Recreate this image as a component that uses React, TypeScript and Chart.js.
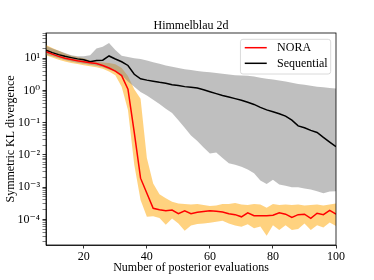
import React, { useEffect, useRef } from 'react';
import { Chart, registerables } from 'chart.js';

Chart.register(...registerables);

const chartTitle = 'Himmelblau 2d';
const xTitle = 'Number of posterior evaluations';
const yTitle = 'Symmetric KL divergence';

const evaluations = [8, 10, 12, 14, 16, 18, 20, 22, 24, 26, 28, 30, 32, 34, 36, 38, 40, 42, 44, 46, 48, 50, 52, 54, 56, 58, 60, 62, 64, 66, 68, 70, 72, 74, 76, 78, 80, 82, 84, 86, 88, 90, 92, 94, 96, 98, 100];

const noraMean = [16, 13.5, 11.5, 10, 9.2, 8.4, 7.8, 7.3, 6.9, 6.0, 5.0, 4.0, 2.9, 1.1, 0.05, 0.0019, 0.00065, 0.00022, 0.0002, 0.000185, 0.000194, 0.00015, 0.000185, 0.00015, 0.000165, 0.000175, 0.000185, 0.00018, 0.00017, 0.00015, 0.00014, 0.00012, 0.00016, 0.00013, 0.00013, 0.00013, 0.000135, 0.00016, 0.000145, 0.000115, 0.00014, 0.000145, 0.000107, 0.000155, 0.00014, 0.00019, 0.000145];
const noraUpper = [26, 21, 17, 14, 12, 11, 10, 8.5, 7.8, 7.4, 7.1, 6.5, 5.0, 2.8, 1.1, 0.55, 0.008, 0.0013, 0.0006, 0.00045, 0.00035, 0.00031, 0.0003, 0.00029, 0.0003, 0.00028, 0.00026, 0.00027, 0.0003, 0.0003, 0.00032, 0.00029, 0.00028, 0.0003, 0.00029, 0.00023, 0.0003, 0.00028, 0.00029, 0.00028, 0.00029, 0.00027, 0.00028, 0.00029, 0.00027, 0.00029, 0.00031];
const noraLower = [12.5, 10.5, 9.0, 8.0, 7.2, 6.6, 6.1, 5.7, 5.3, 4.7, 3.9, 3.0, 1.3, 0.25, 0.005, 0.0004, 0.00012, 0.000125, 0.00011, 0.000068, 0.000107, 0.000075, 0.000044, 0.000065, 0.000072, 0.000075, 0.000078, 0.000085, 0.00009, 0.000075, 0.000065, 0.000059, 0.00007, 0.000053, 0.00006, 0.000031, 0.000066, 0.000047, 0.000066, 0.000047, 0.00005, 0.000075, 0.000047, 0.000066, 0.000056, 0.00008, 0.000062];

const seqMean = [17.8, 15, 13, 11.5, 10.5, 9.6, 9.0, 7.8, 8.6, 8.7, 11.8, 9.5, 7.8, 6.0, 3.2, 2.3, 2.1, 1.95, 1.8, 1.68, 1.52, 1.42, 1.32, 1.26, 1.2, 1.05, 0.92, 0.8, 0.7, 0.63, 0.56, 0.5, 0.43, 0.37, 0.3, 0.25, 0.22, 0.19, 0.16, 0.12, 0.08, 0.07, 0.058, 0.05, 0.035, 0.025, 0.018];
const seqUpper = [24, 20, 17, 14.5, 12.5, 11.5, 11.5, 12.5, 20, 23, 30, 18, 12, 11, 10, 9.5, 8.5, 7.5, 6.8, 6.0, 5.5, 5.0, 4.6, 4.3, 4.0, 3.85, 3.7, 3.5, 3.3, 3.15, 3.0, 2.95, 2.85, 2.7, 2.5, 2.3, 2.2, 2.05, 1.9, 1.75, 1.6, 1.5, 1.4, 1.32, 1.26, 1.2, 1.15];
const seqLower = [13, 11.5, 10, 8.8, 8, 7.3, 6.8, 6.3, 5.9, 5.3, 4.5, 3.8, 3.0, 1.9, 1.3, 0.9, 0.7, 0.52, 0.38, 0.27, 0.2, 0.12, 0.07, 0.04, 0.027, 0.017, 0.011, 0.012, 0.008, 0.0055, 0.005, 0.0043, 0.0035, 0.0027, 0.0016, 0.00125, 0.0017, 0.0012, 0.0011, 0.001, 0.001, 0.0009, 0.00085, 0.00075, 0.00065, 0.00073, 0.00075];

const xTicks = [20, 40, 60, 80, 100];
const yMajorTicks = [1e-4, 1e-3, 1e-2, 1e-1, 1, 10];
const yTickLabels = ['10⁻⁴', '10⁻³', '10⁻²', '10⁻¹', '10⁰', '10¹'];

const FONT = "'Liberation Serif', 'DejaVu Serif', serif";

export default function App() {
  const ref = useRef<HTMLCanvasElement | null>(null);

  useEffect(() => {
    document.body.style.margin = '0';
    const canvas = ref.current;
    if (!canvas) return;
    const pts = (arr: number[]) => evaluations.map((x, i) => ({ x, y: arr[i] }));

    const Y_MIN = 1.6e-5;
    const Y_MAX = 61;

    const framePlugin = {
      id: 'framePlugin',
      afterDraw(chart: any) {
        const { ctx, chartArea: a } = chart;
        ctx.save();
        ctx.strokeStyle = '#000';
        ctx.lineWidth = 0.8;
        ctx.strokeRect(a.left, a.top, a.right - a.left, a.bottom - a.top);

        // title
        ctx.fillStyle = '#000';
        ctx.font = `12px ${FONT}`;
        ctx.textAlign = 'center';
        ctx.textBaseline = 'alphabetic';
        ctx.fillText(chartTitle, (a.left + a.right) / 2, 29.3);

        // legend
        const items = chart.data.datasets.slice(0, 2);
        const textW = Math.max(...items.map((d: any) => ctx.measureText(d.label).width));
        const right = a.right - 5.3;
        const boxW = 4.3 + 22 + 10.3 + textW + 3;
        const left = right - boxW;
        const top = a.top + 6.3;
        const h = 34.7;
        ctx.beginPath();
        const r = 2.5;
        ctx.moveTo(left + r, top);
        ctx.lineTo(right - r, top);
        ctx.quadraticCurveTo(right, top, right, top + r);
        ctx.lineTo(right, top + h - r);
        ctx.quadraticCurveTo(right, top + h, right - r, top + h);
        ctx.lineTo(left + r, top + h);
        ctx.quadraticCurveTo(left, top + h, left, top + h - r);
        ctx.lineTo(left, top + r);
        ctx.quadraticCurveTo(left, top, left + r, top);
        ctx.closePath();
        ctx.fillStyle = 'rgba(255,255,255,0.8)';
        ctx.fill();
        ctx.strokeStyle = '#d0d0d0';
        ctx.lineWidth = 0.8;
        ctx.stroke();
        items.forEach((d: any, i: number) => {
          const y = top + 8.4 + i * 15.6;
          ctx.beginPath();
          ctx.strokeStyle = d.borderColor;
          ctx.lineWidth = 1.5;
          ctx.moveTo(left + 4.3, y);
          ctx.lineTo(left + 26.3, y);
          ctx.stroke();
          ctx.fillStyle = '#000';
          ctx.textAlign = 'left';
          ctx.textBaseline = 'middle';
          ctx.fillText(d.label, left + 36.6, y + 0.5);
        });
        ctx.restore();
      },
    };

    const font = { family: FONT, size: 12 };

    const chart = new Chart(canvas, {
      type: 'line',
      data: {
        datasets: [
          { label: 'NORA', data: pts(noraMean), borderColor: '#ff0000', borderWidth: 1.5, pointRadius: 0, fill: false, order: 0 },
          { label: 'Sequential', data: pts(seqMean), borderColor: '#000000', borderWidth: 1.5, pointRadius: 0, fill: false, order: 1 },
          { label: 'Sequential upper', data: pts(seqUpper), borderWidth: 0, borderColor: 'rgba(0,0,0,0)', pointRadius: 0, fill: false, order: 2 },
          { label: 'Sequential lower', data: pts(seqLower), borderWidth: 0, borderColor: 'rgba(0,0,0,0)', pointRadius: 0, fill: '-1', backgroundColor: 'rgba(128,128,128,0.5)', order: 3 },
          { label: 'NORA upper', data: pts(noraUpper), borderWidth: 0, borderColor: 'rgba(0,0,0,0)', pointRadius: 0, fill: false, order: 4 },
          { label: 'NORA lower', data: pts(noraLower), borderWidth: 0, borderColor: 'rgba(0,0,0,0)', pointRadius: 0, fill: '-1', backgroundColor: 'rgba(255,165,0,0.5)', order: 5 },
        ],
      },
      options: {
        animation: false,
        responsive: false,
        devicePixelRatio: 1,
        layout: { padding: { top: 33, right: 38, left: 0, bottom: 0 } },
        plugins: { legend: { display: false }, title: { display: false }, tooltip: { enabled: false } },
        elements: { line: { tension: 0 } },
        scales: {
          x: {
            type: 'linear',
            min: 8,
            max: 100,
            afterBuildTicks: (s: any) => { s.ticks = xTicks.map((v) => ({ value: v })); },
            afterFit: (s: any) => { s.height = 35; },
            ticks: { font, color: '#000', padding: 1, autoSkip: false, maxRotation: 0 },
            grid: { drawOnChartArea: false, drawTicks: true, tickLength: 3.5, color: '#000', lineWidth: 0.8 },
            border: { display: true, color: '#000', width: 0.8 },
            title: { display: true, text: xTitle, font, color: '#000', padding: { top: 0, bottom: 5 } },
          },
          y: {
            type: 'logarithmic',
            min: Y_MIN,
            max: Y_MAX,
            afterBuildTicks: (s: any) => {
              const t: any[] = [];
              for (let e = -5; e <= 1; e++) {
                for (let m = 1; m <= 9; m++) {
                  const v = m * Math.pow(10, e);
                  if (v >= Y_MIN && v <= Y_MAX) t.push({ value: v, major: m === 1 });
                }
              }
              s.ticks = t;
            },
            afterFit: (s: any) => { s.width = 46; },
            ticks: {
              font,
              color: '#000',
              padding: 2.5,
              autoSkip: false,
              callback: (value: any) => {
                const idx = yMajorTicks.findIndex((m) => Math.abs(Math.log10(m) - Math.log10(Number(value))) < 1e-6);
                return idx >= 0 ? yTickLabels[idx] : '';
              },
            },
            grid: {
              drawOnChartArea: false,
              drawTicks: true,
              tickLength: 3.5,
              color: '#000',
              lineWidth: (ctx: any) => (ctx.tick && ctx.tick.major ? 0.8 : 0.5),
            },
            border: { display: true, color: '#000', width: 0.8 },
            title: { display: true, text: yTitle, font, color: '#000', padding: { top: 3.3, bottom: 0 } },
          },
        },
      },
      plugins: [framePlugin],
    } as any);

    return () => chart.destroy();
  }, []);

  return (
    <div style={{ width: 374, height: 280, background: '#fff' }}>
      <canvas ref={ref} width={374} height={280} style={{ display: 'block' }} />
    </div>
  );
}
